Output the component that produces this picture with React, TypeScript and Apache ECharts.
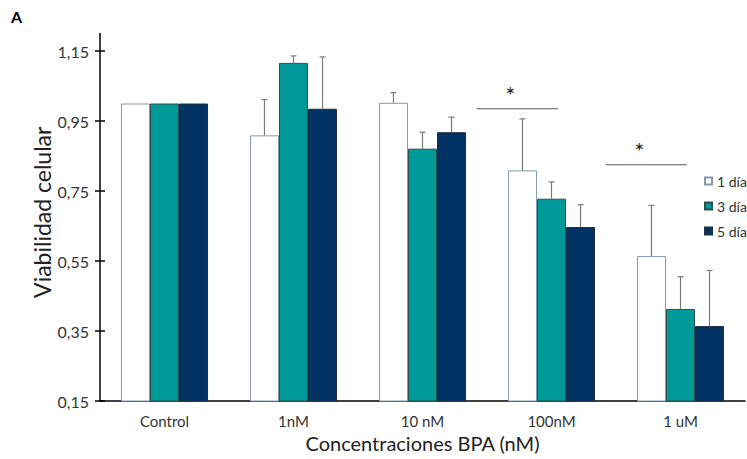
import React, { useEffect, useRef } from "react";
import * as echarts from "echarts";

const categories = ["Control", "1nM", "10 nM", "100nM", "1 uM"];
const seriesNames = ["1 día", "3 días", "5 días"];
const day1 = [1.0, 0.909, 1.002, 0.809, 0.564];
const day3 = [1.0, 1.116, 0.871, 0.728, 0.413];
const day5 = [1.0, 0.985, 0.918, 0.647, 0.364];
const err1 = [0, 0.102, 0.029, 0.147, 0.145];
const err3 = [0, 0.02, 0.047, 0.048, 0.092];
const err5 = [0, 0.148, 0.043, 0.064, 0.159];
const yTicks = [0.15, 0.35, 0.55, 0.75, 0.95, 1.15];
const sigGroups = [3, 4];
const sigLevels = [0.985, 0.825];
const sigLabels = ["*", "*"];

const FONT = "Lato, 'Open Sans', sans-serif";

export default function App() {
  const ref = useRef<HTMLDivElement>(null);
  useEffect(() => {
    if (!ref.current) return;
    const chart = echarts.init(ref.current, null, { renderer: "svg" });
    const means = [day1, day3, day5];
    const errs = [err1, err3, err5];
    const errData: number[][] = [];
    means.forEach((m, s) =>
      m.forEach((v, i) => {
        if (errs[s][i] > 0) errData.push([i, v, errs[s][i], s]);
      })
    );
    const sigData = sigGroups.map((g, k) => [g, sigLevels[k], k]);
    const barStyles = [
      { color: "#ffffff", borderColor: "#8497b0", borderWidth: 1 },
      { color: "#009999", borderColor: "#2f4f4f", borderWidth: 1 },
      { color: "#003264", borderColor: "#1f2f3f", borderWidth: 1 },
    ];
    const yAxisBase = {
      type: "value",
      min: 0.15,
      max: 1.2,
      interval: 0.05,
      splitLine: { show: false },
    };
    chart.setOption({
      animation: false,
      textStyle: { fontFamily: FONT },
      grid: { left: 100, right: 2, top: 33.5, bottom: 58 },
      legend: {
        orient: "vertical",
        left: 704,
        top: 174,
        padding: 0,
        itemWidth: 7,
        itemHeight: 7,
        itemGap: 11,
        icon: "rect",
        textStyle: { fontSize: 14, color: "#333", fontFamily: FONT },
        data: seriesNames,
      },
      xAxis: {
        type: "category",
        data: categories,
        axisLine: { lineStyle: { color: "#000", width: 1.5 } },
        axisTick: { show: false },
        axisLabel: { fontSize: 15, color: "#333", margin: 12, fontFamily: FONT },
        name: "Concentraciones BPA (nM)",
        nameLocation: "middle",
        nameGap: 32,
        nameMoveOverlap: false,
        nameTextStyle: { fontSize: 20, color: "#222", fontFamily: FONT },
      },
      yAxis: [
        {
          ...yAxisBase,
          axisLine: { show: true, lineStyle: { color: "#000", width: 1.5 } },
          axisTick: {
            show: true,
            length: 5,
            customValues: yTicks,
            lineStyle: { color: "#000", width: 1.5 },
          },
          axisLabel: {
            customValues: yTicks,
            fontSize: 16,
            color: "#333",
            margin: 11,
            fontFamily: FONT,
            formatter: (v: number) => v.toFixed(2).replace(".", ","),
          },
          name: "Viabilidad celular",
          nameLocation: "middle",
          nameGap: 47,
          nameMoveOverlap: false,
          nameTextStyle: { fontSize: 23, color: "#222", fontFamily: FONT, padding: [0, 0, 0, 10] },
        },
        {
          ...yAxisBase,
          position: "left",
          axisLine: { show: false },
          axisTick: {
            show: true,
            inside: true,
            length: 5,
            customValues: yTicks,
            lineStyle: { color: "#000", width: 1.5 },
          },
          axisLabel: { show: false },
        },
      ],
      graphic: [
        {
          type: "text",
          left: 11,
          top: 8,
          style: { text: "A", font: `bold 16px ${FONT}`, fill: "#000" },
        },
      ],
      series: [
        ...means.map((m, s) => ({
          type: "bar",
          name: seriesNames[s],
          data: m,
          barWidth: "22.5%",
          barGap: "0%",
          itemStyle: barStyles[s],
          z: 2,
        })),
        {
          type: "custom",
          name: "err",
          data: errData,
          z: 3,
          renderItem: (params: any, api: any) => {
            const cat = api.value(0);
            const v = api.value(1);
            const e = api.value(2);
            const s = api.value(3);
            const base = api.coord([cat, v]);
            const top = api.coord([cat, v + e]);
            const bw = api.size([1, 0])[0] * 0.225;
            const x = base[0] + (s - 1) * bw;
            const style = { stroke: "#7a7a7a", lineWidth: 1.2 };
            return {
              type: "group",
              children: [
                { type: "line", shape: { x1: x, y1: base[1], x2: x, y2: top[1] }, style },
                { type: "line", shape: { x1: x - 3, y1: top[1], x2: x + 3, y2: top[1] }, style },
              ],
            };
          },
        },
        {
          type: "custom",
          name: "sig",
          data: sigData,
          z: 3,
          renderItem: (params: any, api: any) => {
            const g = api.value(0);
            const lvl = api.value(1);
            const k = api.value(2);
            const c = api.coord([g, lvl]);
            const w = api.size([1, 0])[0];
            return {
              type: "group",
              children: [
                {
                  type: "line",
                  shape: { x1: c[0] - 0.58 * w, y1: c[1], x2: c[0] + 0.05 * w, y2: c[1] },
                  style: { stroke: "#595959", lineWidth: 1.2 },
                },
                {
                  type: "text",
                  x: c[0] - 0.32 * w,
                  y: c[1] - 14,
                  style: {
                    text: sigLabels[k],
                    font: `24px ${FONT}`,
                    fill: "#222",
                    align: "center",
                    verticalAlign: "middle",
                  },
                },
              ],
            };
          },
        },
      ],
    });
    return () => chart.dispose();
  }, []);
  return (
    <div
      ref={ref}
      style={{ position: "fixed", left: 0, top: 0, width: 747, height: 459, background: "#fff" }}
    />
  );
}
